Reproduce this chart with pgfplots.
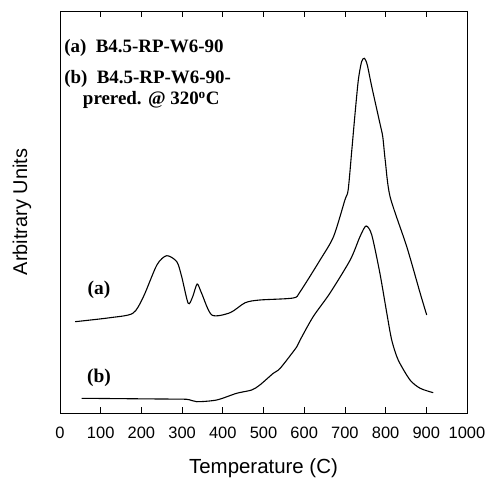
\documentclass[border=0pt]{standalone}
\usepackage{fontspec}
\setmainfont{Liberation Serif}
\newfontfamily\arial{Liberation Sans}
\usepackage{pgfplots}
\pgfplotsset{compat=1.18}
\begin{document}
\begin{tikzpicture}[x=1bp,y=1bp]
\begin{axis}[
  scale only axis,
  width=407bp, height=402bp,
  xmin=0, xmax=1000, ymin=0, ymax=402,
  xtick={0,100,...,1000},
  ytick=\empty,
  tick align=inside,
  major tick length=6bp,
  axis line style={line width=0.8bp},
  every tick/.style={black, line width=0.8bp},
  /pgf/number format/assume math mode=true,
  /pgf/number format/1000 sep={},
  xticklabel style={font=\arial\fontsize{16.5}{18}\selectfont, yshift=-11bp},
  xlabel={Temperature (C)},
  ylabel={Arbitrary Units},
  xlabel style={font=\arial\fontsize{20.5}{22}\selectfont, at={(axis description cs:0.5,0)}, anchor=center, yshift=-55bp},
  ylabel style={font=\arial\fontsize{20}{22}\selectfont, at={(axis description cs:-0.0934,0.5)}, anchor=center},
  clip=false,
]
\addplot[black, line width=1.1bp, smooth, tension=0.45] coordinates {
(37,91.3) (123,95.3) (179,99.7) (205,116.3) (238,148) (262,157.3) (287,151.3)
(299,136.3) (315,109.7) (326,116.3) (337,129) (348,119.7) (373,98) (418,100.3)
(455,110.3) (491,113) (573,115) (590,121.3) (639,153) (672,176.3) (700,213)
(708,223) (717,263) (725,299.7) (733,333) (741,351.3) (748,354.7) (755,348)
(766,326.3) (786,289.7) (793,276.3) (799,253) (811,216.3) (852,166.3)
(885,119.7) (901,98)
};
\addplot[black, line width=1.1bp, smooth, tension=0.45] coordinates {
(53,14.7) (246,14) (311,13.7) (336,11.3) (385,13) (434,19.7) (471,23) (491,28)
(524,39.7) (541,44.7) (582,66.3) (590,73) (622,96.3) (663,119.7) (713,153)
(737,176.3) (752,187) (766,178) (786,139.7) (803,99.7) (815,73) (831,53)
(860,33) (885,24.7) (917,20.3)
};
\node[font=\fontsize{19.5}{21}\selectfont\bfseries] at (axis cs:96,123) {(a)};
\node[font=\fontsize{19.5}{21}\selectfont\bfseries] at (axis cs:96,35) {(b)};
\node[anchor=west, font=\fontsize{19}{21}\selectfont\bfseries, inner sep=0pt] at (axis cs:10,365) {(a)\ \ B4.5-RP-W6-90};
\node[anchor=west, font=\fontsize{19}{21}\selectfont\bfseries, inner sep=0pt] at (axis cs:10,334) {(b)\ \ B4.5-RP-W6-90-};
\node[anchor=west, font=\fontsize{19}{21}\selectfont\bfseries, inner sep=0pt] at (axis cs:56,313) {prered. @ 320\textsuperscript{o}C};
\end{axis}
\pgfresetboundingbox
\path[use as bounding box] (current axis.south west) ++(-60bp,-65bp) rectangle ([xshift=23bp,yshift=11bp]current axis.north east);
\end{tikzpicture}
\end{document}
